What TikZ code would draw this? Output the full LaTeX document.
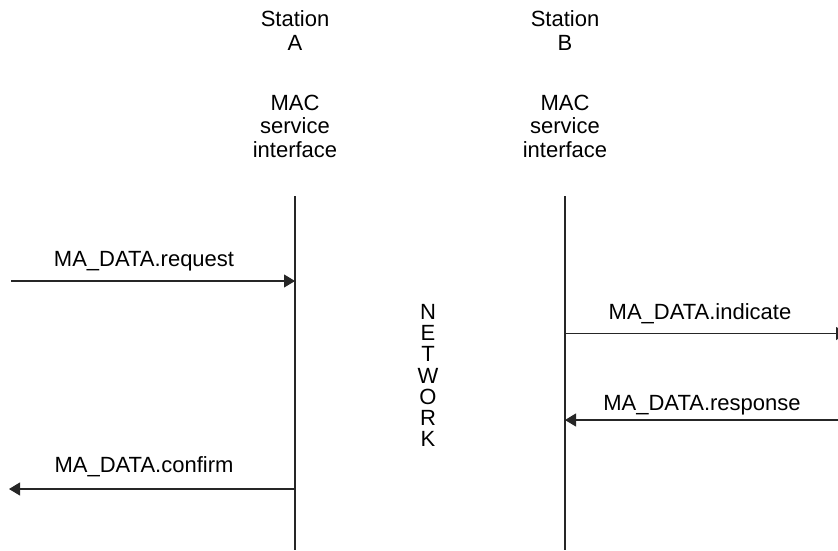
\documentclass[tikz,border=0pt]{standalone}
\usepackage{fontspec}
\setmainfont{Liberation Sans}
\usetikzlibrary{arrows.meta}
\begin{document}
\begin{tikzpicture}[x=1pt,y=-1pt,
  lbl/.style={inner sep=0pt, font=\fontsize{22}{23.3}\selectfont, align=center, anchor=base},
  netlbl/.style={inner sep=0pt, font=\fontsize{22}{21.2}\selectfont, align=center, anchor=base},
  life/.style={line width=1.1pt, draw=black!85},
  msg/.style={line width=1.1pt, draw=black!85, -{Triangle[length=11pt,width=13pt]}}]
\useasboundingbox (0,0) rectangle (838,550);
\clip (0,0) rectangle (838,550);
% headers (anchored at the baseline of the last line)
\node[lbl] (stA) at (295,50) {Station\\A};
\node[lbl] (stB) at (565,50) {Station\\B};
\node[lbl] (macA) at (295,157) {MAC\\service\\interface};
\node[lbl] (macB) at (565,157) {MAC\\service\\interface};
% lifelines
\coordinate (Atop) at (295,196);
\coordinate (Abot) at (295,550);
\coordinate (Btop) at (565,196);
\coordinate (Bbot) at (565,550);
\draw[life] (Atop) -- (Abot);
\draw[life] (Btop) -- (Bbot);
% network
\node[netlbl] (net) at (428,446.7) {N\\E\\T\\W\\O\\R\\K};
% messages
\coordinate (reqL) at (11,281);
\coordinate (reqR) at (295,281);
\draw[msg] (reqL) -- (reqR);
\node[lbl] (reqT) at (144,266.7) {MA\_DATA.request};
\coordinate (indL) at (565,333.5);
\coordinate (indR) at (847,333.5);
\draw[msg] (indL) -- (indR);
\node[lbl] (indT) at (700,319.3) {MA\_DATA.indicate};
\coordinate (resR) at (840,420);
\coordinate (resL) at (565,420);
\draw[msg] (resR) -- (resL);
\node[lbl] (resT) at (702,410.7) {MA\_DATA.response};
\coordinate (conR) at (295,489);
\coordinate (conL) at (9,489);
\draw[msg] (conR) -- (conL);
\node[lbl] (conT) at (144,472.7) {MA\_DATA.confirm};
\end{tikzpicture}
\end{document}
